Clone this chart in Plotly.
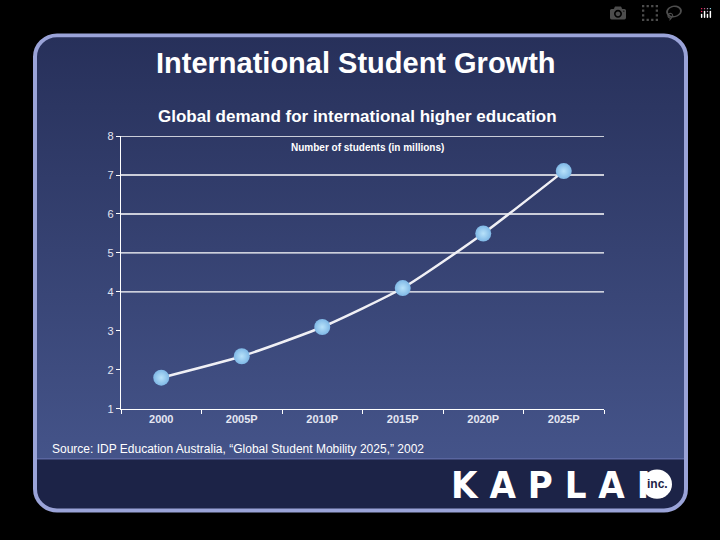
import base64
import plotly.graph_objects as go

categories = ["2000", "2005P", "2010P", "2015P", "2020P", "2025P"]
students = [1.8, 2.35, 3.1, 4.1, 5.5, 7.1]
y_ticks = [1, 2, 3, 4, 5, 6, 7, 8]
grid_values = [4, 5, 6, 7, 8]

W, H = 720, 540
svg = f'''<svg xmlns="http://www.w3.org/2000/svg" width="{W}" height="{H}" viewBox="0 0 {W} {H}" preserveAspectRatio="none">
<defs><linearGradient id="g" x1="0" y1="0" x2="0" y2="1">
<stop offset="0" stop-color="#27305a"/><stop offset="1" stop-color="#48588f"/></linearGradient>
<clipPath id="c"><rect x="35" y="30" width="651" height="486" rx="22"/></clipPath></defs>
<rect width="{W}" height="{H}" fill="#000"/>
<rect x="35" y="30" width="651" height="486" rx="22" fill="url(#g)"/>
<rect x="35" y="463" width="651" height="60" fill="#1c2347" clip-path="url(#c)"/>
<line x1="35" y1="463" x2="686" y2="463" stroke="#5a66a0" stroke-width="1.5"/>
<rect x="35" y="30" width="651" height="486" rx="22" fill="none" stroke="#9aa3d8" stroke-width="4"/>
<circle cx="657" cy="489" r="15" fill="#fff"/>
</svg>'''
src = "data:image/svg+xml;base64," + base64.b64encode(svg.encode()).decode()

fig = go.Figure()
fig.add_trace(go.Scatter(
    x=categories, y=students, mode="lines+markers",
    line=dict(color="#f0f0f5", width=2.5, shape="spline", smoothing=0.6),
    marker=dict(size=16, color="#7fb8e6", line=dict(width=0),
                gradient=dict(type="radial", color="#b8e2fa")),
    hoverinfo="x+y", showlegend=False,
))
for v in grid_values:
    fig.add_hline(y=v, line=dict(color="white", width=1.3), layer="below")

font = "Liberation Sans, Arial, sans-serif"


def ann(text, x, y, size, color="white", family=font, xanchor="center"):
    return dict(text=text, x=x / W, y=1 - y / H, xref="paper", yref="paper",
                xanchor=xanchor, yanchor="middle", showarrow=False,
                font=dict(family=family, size=size, color=color))


fig.update_layout(
    width=W, height=H, margin=dict(l=0, r=0, t=0, b=0),
    paper_bgcolor="black", plot_bgcolor="rgba(0,0,0,0)",
    images=[dict(source=src, xref="paper", yref="paper", x=0, y=1,
                 sizex=1, sizey=1, xanchor="left", yanchor="top",
                 sizing="stretch", layer="below")],
    xaxis=dict(domain=[121/W, 604/W], type="category", showgrid=False,
               showline=True, linecolor="white", linewidth=1.3,
               ticks="outside", tickson="boundaries", ticklen=4, tickcolor="white",
               tickfont=dict(family=font, size=11, color="#e4e6f2"),
               tickprefix="<b>", ticksuffix="</b>",
               range=[-0.5, 5.5], fixedrange=True),
    yaxis=dict(domain=[1-412/H, 1-133/H], range=[1, 8], tickvals=y_ticks,
               showgrid=False, zeroline=False, showline=True, linecolor="white",
               linewidth=1.3, ticks="outside", ticklen=4, tickcolor="white",
               tickfont=dict(family=font, size=11, color="#e4e6f2"),
               tickprefix="<b>", ticksuffix="</b>",
               fixedrange=True),
    annotations=[
        ann("<b>International Student Growth</b>", 356, 58, 29),
        ann("<b>Global demand for international higher education</b>", 357, 113, 17),
        ann("<b>Number of students (in millions)</b>", 367, 145, 10),
        ann("Source: IDP Education Australia, \u201cGlobal Student Mobility 2025,\u201d 2002",
            50, 453, 12, xanchor="left"),
        ann("<b>K A P L A N</b>", 558, 490, 38,
            family="Liberation Sans Narrow, DejaVu Sans Condensed"),
        ann("<b>inc.</b>", 657, 489, 12, color="#1c2347"),
    ],
)
fig.write_html("out.html",
               post_script="document.body.style.margin='0';document.body.style.overflow='hidden';")
